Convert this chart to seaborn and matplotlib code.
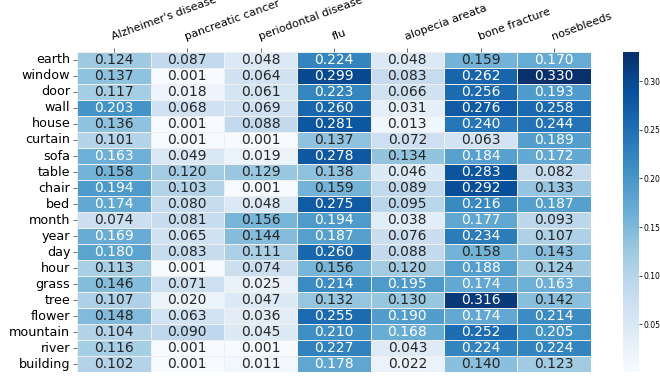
import numpy as np
import pandas as pd
import seaborn as sns
import matplotlib.pyplot as plt

# --- DANE ---
wiersze = ['earth', 'window', 'door', 'wall', 'house', 'curtain', 'sofa', 'table', 'chair', 'bed',
           'month', 'year', 'day', 'hour', 'grass', 'tree', 'flower', 'mountain', 'river', 'building']
kolumny = ["Alzheimer's disease", 'pancreatic cancer', 'periodontal disease', 'flu',
           'alopecia areata', 'bone fracture', 'nosebleeds']

alzheimer = [0.124, 0.137, 0.117, 0.203, 0.136, 0.101, 0.163, 0.158, 0.194, 0.174,
             0.074, 0.169, 0.180, 0.113, 0.146, 0.107, 0.148, 0.104, 0.116, 0.102]
pancreatic = [0.087, 0.001, 0.018, 0.068, 0.001, 0.001, 0.049, 0.120, 0.103, 0.080,
              0.081, 0.065, 0.083, 0.001, 0.071, 0.020, 0.063, 0.090, 0.001, 0.001]
periodontal = [0.048, 0.064, 0.061, 0.069, 0.088, 0.001, 0.019, 0.129, 0.001, 0.048,
               0.156, 0.144, 0.111, 0.074, 0.025, 0.047, 0.036, 0.045, 0.001, 0.011]
flu = [0.224, 0.299, 0.223, 0.260, 0.281, 0.137, 0.278, 0.138, 0.159, 0.275,
       0.194, 0.187, 0.260, 0.156, 0.214, 0.132, 0.255, 0.210, 0.227, 0.178]
alopecia = [0.048, 0.083, 0.066, 0.031, 0.013, 0.072, 0.134, 0.046, 0.089, 0.095,
            0.038, 0.076, 0.088, 0.120, 0.195, 0.130, 0.190, 0.168, 0.043, 0.022]
fracture = [0.159, 0.262, 0.256, 0.276, 0.240, 0.063, 0.184, 0.283, 0.292, 0.216,
            0.177, 0.234, 0.158, 0.188, 0.174, 0.316, 0.174, 0.252, 0.224, 0.140]
nosebleeds = [0.170, 0.330, 0.193, 0.258, 0.244, 0.189, 0.172, 0.082, 0.133, 0.187,
              0.093, 0.107, 0.143, 0.124, 0.163, 0.142, 0.214, 0.205, 0.224, 0.123]

cbar_ticks = [0.05, 0.10, 0.15, 0.20, 0.25, 0.30]

df = pd.DataFrame(
    np.column_stack([alzheimer, pancreatic, periodontal, flu, alopecia, fracture, nosebleeds]),
    index=wiersze, columns=kolumny)

# --- WYKRES ---
fig = plt.figure(figsize=(6.6, 3.79), dpi=100)
ax = fig.add_axes([0.117, 0.018, 0.778, 0.845])
cax = fig.add_axes([0.944, 0.018, 0.024, 0.845])

sns.heatmap(df, ax=ax, cbar_ax=cax, cmap='Blues', annot=True, fmt='.3f',
            annot_kws={'fontsize': 10}, linewidths=0.5, linecolor='#f0f0f0',
            cbar_kws={'ticks': cbar_ticks, 'format': '%.2f'})

ax.xaxis.tick_top()
ax.set_xticklabels(kolumny, rotation=20, ha='left', rotation_mode='anchor', fontsize=8)
ax.set_yticklabels(wiersze, rotation=0, fontsize=9.2)
ax.tick_params(axis='both', length=3, width=0.6, color='#555555', pad=2)
ax.tick_params(axis='x', pad=4)
ax.set_xlabel('')
ax.set_ylabel('')

cax.tick_params(labelsize=5.5, length=2, width=0.5, pad=1)
for s in cax.spines.values():
    s.set_visible(False)

fig.savefig('out.png', dpi=100)
